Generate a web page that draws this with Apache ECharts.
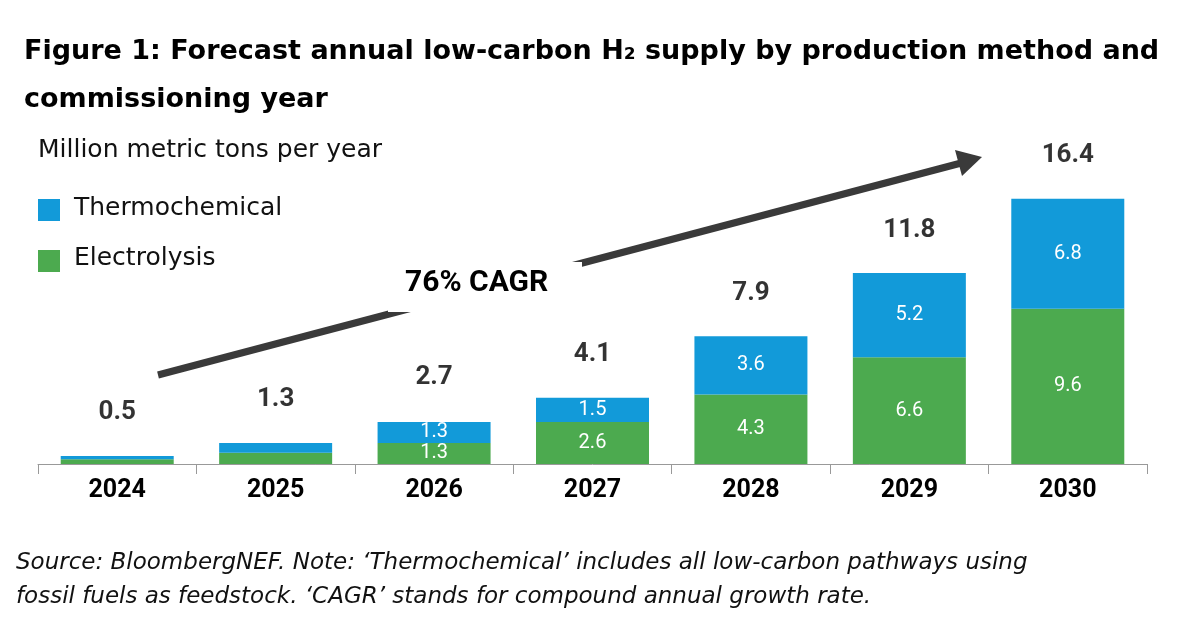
<!DOCTYPE html><html><head><meta charset="utf-8"><script src="https://cdn.jsdelivr.net/npm/echarts@6/dist/echarts.min.js"></script>
<style>body{margin:0}#c{width:1200px;height:635px}</style></head><body><div id="c"></div><script>
const years=['2024','2025','2026','2027','2028','2029','2030'];
const electrolysis=[0.3,0.7,1.3,2.6,4.3,6.6,9.6];
const thermo=[0.2,0.6,1.3,1.5,3.6,5.2,6.8];
const totals=[0.5,1.3,2.7,4.1,7.9,11.8,16.4];
const F='Roboto, "Noto Sans", sans-serif';
const D='"DejaVu Sans", sans-serif';
const c=echarts.init(document.getElementById('c'));
const inLab={show:true,color:'#fff',fontSize:20,fontFamily:F,formatter:p=>p.value>=1?p.value.toFixed(1):''};
c.setOption({animation:false,
grid:{left:38,right:53,top:100,bottom:171},
xAxis:{type:'category',data:years,axisLine:{lineStyle:{color:'#999'}},axisTick:{show:true,length:10,lineStyle:{color:'#999'}},
 axisLabel:{color:'#000',fontSize:25,fontWeight:'bold',fontFamily:F,margin:14}},
yAxis:{type:'value',min:0,max:22.5,show:false},
series:[
{type:'bar',name:'Electrolysis',stack:'s',data:electrolysis,barWidth:113,itemStyle:{color:'#4caa4f'},label:inLab},
{type:'bar',name:'Thermochemical',stack:'s',data:thermo,itemStyle:{color:'#129ad9'},label:inLab},
{type:'scatter',data:totals,symbolSize:0,label:{show:true,position:'top',distance:30,color:'#000',fontSize:26,fontWeight:'bold',fontFamily:F,formatter:p=>p.value.toFixed(1)}}
],
graphic:[
{type:'text',left:24,top:28,style:{text:'Figure 1: Forecast annual low-carbon H\u2082 supply by production method and\ncommissioning year',fontSize:27,fontWeight:'bold',fontFamily:D,fill:'#000',lineHeight:48}},
{type:'text',left:38,top:138,style:{text:'Million metric tons per year',fontSize:25,fontFamily:D,fill:'#111'}},
{type:'rect',shape:{x:38,y:199,width:22,height:22},style:{fill:'#129ad9'}},
{type:'text',left:74,top:196,style:{text:'Thermochemical',fontSize:25,fontFamily:D,fill:'#111'}},
{type:'rect',shape:{x:38,y:250,width:22,height:22},style:{fill:'#4caa4f'}},
{type:'text',left:74,top:246,style:{text:'Electrolysis',fontSize:25,fontFamily:D,fill:'#111'}},
{type:'line',shape:{x1:158,y1:375,x2:965,y2:162},style:{stroke:'#3a3a3a',lineWidth:7}},
{type:'polygon',shape:{points:[[982,157],[955,150],[962,176]]},style:{fill:'#3a3a3a'}},
{type:'rect',shape:{x:388,y:262,width:194,height:50},style:{fill:'#fff'}},
{type:'text',left:405,top:268,style:{text:'76% CAGR',fontSize:30,fontWeight:'bold',fontFamily:F,fill:'#000'}},
{type:'text',left:16,top:546,style:{text:'Source: BloombergNEF. Note: \u2018Thermochemical\u2019 includes all low-carbon pathways using\nfossil fuels as feedstock. \u2018CAGR\u2019 stands for compound annual growth rate.',fontSize:23,fontStyle:'italic',fontFamily:D,fill:'#111',lineHeight:34}}
]});
</script></body></html>
